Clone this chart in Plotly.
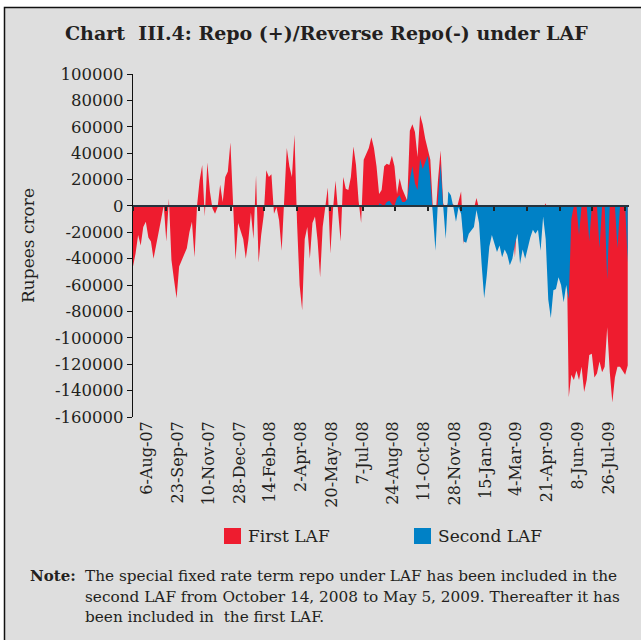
import pandas as pd
import plotly.graph_objects as go

# ---------------- data (values in thousand Rupees crore) ----------------
START_DATE = "2007-07-15"
N_POINTS = 194
STEP = "4D"
dates = pd.date_range(START_DATE, periods=N_POINTS, freq=STEP)

first_laf_k = [
    -46, -36, -22, -30, -16, -12, -24, -27, -40, -29,
    -20, -10, 0.5, -27, 5.5, -41, -56, -70, -46, -41,
    -37, -32, -20, -12, -39, 0.5, 19.5, 31, -8, 33,
    11, -2, -6, -1, 16, 3, 22, 26, 48, -3,
    -41, -13, -20, -25, -40, -26, -5, -25, 23, -43,
    -22, -7, 27, 22, 24, -6, -1, -11,
    -34, 10, 44, 30, 22, 54, -13, -60, -79, -25,
    -16, -40, -13, -8, -26, -54, -16, -1, 14, -36,
    -3, 19, -6, -27, 22, 13, 12, 22, 45, 31,
    4, -13, 35, 40, 44, 52, 44, 30, 9, 12,
    30, 32, 31, 38, 30, 9, 21, 13, 9, 4,
    57, 62, 56, 37, 69, 62, 51, 42, 35, -3,
    -10, 20,
    42, 2, -3, 3, 2, 1, -4, 3, 11, -29,
    -5, -3, -4, -2, 6, -2, -8, -10, -5, -3,
    -4, -6, -8, -4, -6, -3, -5, -4, -8, -39,
    -6, -5, -3, -6, -4, -2, -3, -2, -4, -3,
    -2, 2, -6, -8, -5, -4, -6, -3, -5, -5,
    -145, -128, -132, -125, -132, -122, -141, -132, -113, -112,
    -130, -127, -118, -126, -122, -92, -126, -149, -130, -122,
    -122, -125, -128, -121,
]

SECOND_START_INDEX = 96  # second LAF series begins early August 2008
second_laf_k = [
    2, 1, 0, 3, 4, 1, 0, 6, 8, 3, 3, 5,
    20, 30, 17, 12, 36, 28, 33, 38, 20, -10, -34, 5,
    32, 0, -25, 11, 8, -1, -12, -1, -6, -27, -28, -21,
    -18, -16, -3, -13, -44, -70, -53, -31, -22, -28, -35, -30,
    -39, -33, -37, -45, -40, -29, -21, -44, -33, -40, -31, -24,
    -18, -21, -18, -34, -8, -25, -71, -85, -64, -63, -54, -60,
    -73, -60, -71, -10, 0, 0, -22, 0, 0, 0, -27, 0,
    0, 0, -32, 0, 0, -56, 0, 0, 0, -32, 0, 0,
    0, -43,
]

tick_dates = ["2007-08-06", "2007-09-23", "2007-11-10", "2007-12-28", "2008-02-14",
              "2008-04-02", "2008-05-20", "2008-07-07", "2008-08-24", "2008-10-11",
              "2008-11-28", "2009-01-15", "2009-03-04", "2009-04-21", "2009-06-08",
              "2009-07-26"]
tick_labels = ["6-Aug-07", "23-Sep-07", "10-Nov-07", "28-Dec-07", "14-Feb-08",
               "2-Apr-08", "20-May-08", "7-Jul-08", "24-Aug-08", "11-Oct-08",
               "28-Nov-08", "15-Jan-09", "4-Mar-09", "21-Apr-09", "8-Jun-09",
               "26-Jul-09"]
y_ticks = list(range(-160000, 100001, 20000))
y_labels = [str(v) for v in y_ticks]

first_laf = [v * 1000 for v in first_laf_k]
second_laf = [v * 1000 for v in second_laf_k]

# ---------------- styling ----------------
RED = "#ee1c2f"
BLUE = "#0081c6"
BG = "#dedede"
TXT = "#231f20"
SERIF = "DejaVu Serif"
TITLE = "<b>Chart  III.4: Repo (+)/Reverse Repo(-) under LAF</b>"

W, H = 641, 640
ML, MR, MT, MB = 133, 12, 74, 223
PW, PH = W - ML - MR, H - MT - MB


def px(x):
    return (x - ML) / PW


def py(y):
    return (H - MB - y) / PH


fig = go.Figure()
fig.add_trace(go.Scatter(x=dates, y=first_laf, mode="lines", fill="tozeroy",
                         line=dict(width=0, color=RED), fillcolor=RED,
                         name="First LAF", showlegend=False, hoverinfo="x+y"))
fig.add_trace(go.Scatter(x=dates[SECOND_START_INDEX:], y=second_laf, mode="lines",
                         fill="tozeroy", line=dict(width=0, color=BLUE), fillcolor=BLUE,
                         name="Second LAF", showlegend=False, hoverinfo="x+y"))
# helper (invisible) trace so the zero-line axis with tick marks is drawn
fig.add_trace(go.Scatter(x=[dates[0]], y=[0], xaxis="x2", yaxis="y", mode="markers",
                         marker=dict(opacity=0), showlegend=False, hoverinfo="skip"))

# background frame
fig.add_shape(type="rect", xref="paper", yref="paper",
              x0=px(4.5), x1=px(700), y0=py(700), y1=py(7.5),
              fillcolor=BG, line=dict(color="#111111", width=1.5), layer="below")

# legend (manual)
for x0, col, label in [(224, RED, "First LAF"), (414, BLUE, "Second LAF")]:
    fig.add_shape(type="rect", xref="paper", yref="paper",
                  x0=px(x0), x1=px(x0 + 17), y0=py(544), y1=py(528),
                  fillcolor=col, line=dict(width=0))
    fig.add_annotation(x=px(x0 + 22), y=py(536), xref="paper", yref="paper",
                       text=label, showarrow=False, xanchor="left", yanchor="middle",
                       font=dict(family=SERIF, size=17, color=TXT))

# title
fig.add_annotation(x=px(326), y=py(33), xref="paper", yref="paper",
                   text=TITLE, showarrow=False, xanchor="center", yanchor="middle",
                   font=dict(family=SERIF, size=19, color=TXT))

# note
fig.add_annotation(x=px(28), y=py(576), xref="paper", yref="paper",
                   text="<b>Note:</b>", showarrow=False, xanchor="left", yanchor="middle",
                   font=dict(family=SERIF, size=15, color=TXT))
note_lines = ["The special fixed rate term repo under LAF has been included in the",
              "second LAF from October 14, 2008 to May 5, 2009. Thereafter it has",
              "been included in  the first LAF."]
for k, line in enumerate(note_lines):
    fig.add_annotation(x=px(83), y=py(576 + 20.5 * k), xref="paper", yref="paper",
                       text=line, showarrow=False, xanchor="left", yanchor="middle",
                       font=dict(family=SERIF, size=15.3, color=TXT))

fig.update_layout(
    width=W, height=H,
    margin=dict(l=ML, r=MR, t=MT, b=MB, pad=0),
    paper_bgcolor="white", plot_bgcolor="rgba(0,0,0,0)",
    showlegend=False,
    font=dict(family=SERIF, color=TXT),
    xaxis=dict(type="date", range=["2007-07-15", "2009-08-27"],
               tickmode="array", tickvals=tick_dates, ticktext=tick_labels,
               tickangle=-90, ticks="", showline=False, showgrid=False, zeroline=False,
               tickfont=dict(family=SERIF, size=16, color=TXT)),
    xaxis2=dict(type="date", overlaying="x", matches="x", anchor="free",
                position=160000 / 260000, side="bottom",
                showline=True, linecolor="#26333e", linewidth=2,
                ticks="outside", ticklen=4, tickwidth=1.5, tickcolor="#222222",
                tick0="2007-07-15", dtick=51.2 * 86400000,
                showticklabels=False, showgrid=False, zeroline=False),
    yaxis=dict(range=[-160000, 100000], tickmode="array", tickvals=y_ticks,
               ticktext=y_labels, ticks="outside", ticklen=5, tickcolor="#111111",
               showline=True, linecolor="#111111", linewidth=1.2,
               showgrid=False, zeroline=False,
               tickfont=dict(family=SERIF, size=16.5, color=TXT),
               title=dict(text="Rupees crore", standoff=16,
                          font=dict(family=SERIF, size=17, color=TXT))),
)

fig.write_html("out.html", config={"displayModeBar": False},
               post_script="document.body.style.margin='0';document.body.style.padding='0';")
